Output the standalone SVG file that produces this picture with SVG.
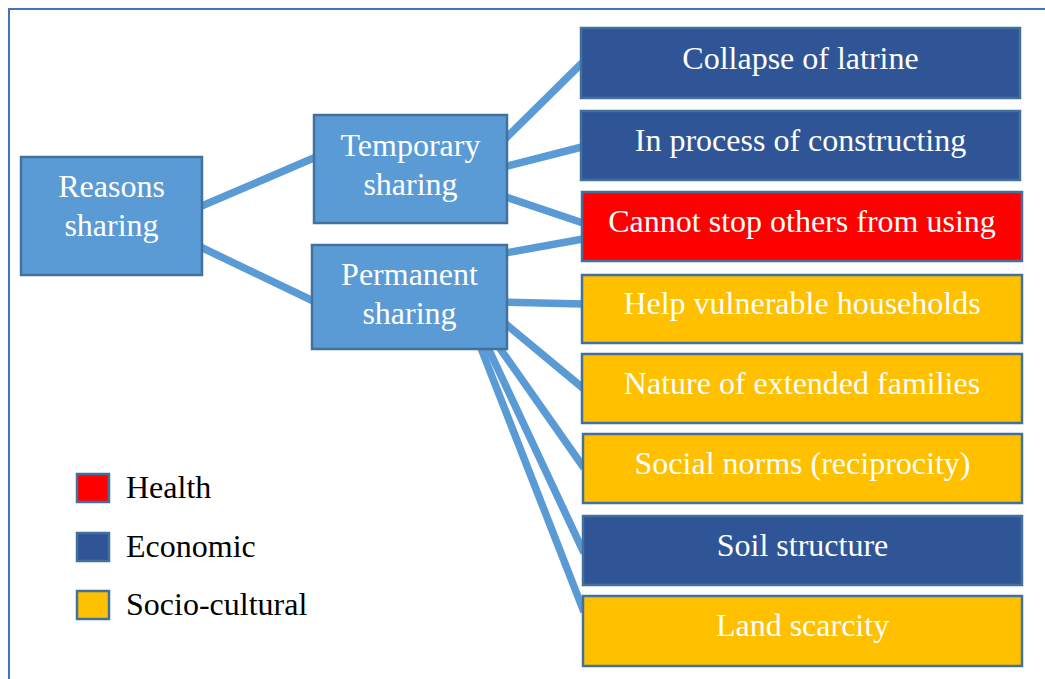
<svg xmlns="http://www.w3.org/2000/svg" width="1045" height="679" viewBox="0 0 1045 679">
  <style>
    .frame { fill: none; stroke: #4472C4; stroke-width: 2; }
    .link { stroke: #5B9BD5; stroke-width: 7.5; fill: none; stroke-linecap: butt; }
    .box { stroke: #41719C; stroke-width: 2.5; }
    .root { fill: #5B9BD5; }
    .eco { fill: #2F5597; }
    .health { fill: #FF0000; }
    .socio { fill: #FFC000; }
    .label { font-family: "Liberation Serif", "Times New Roman", serif; font-size: 32px; fill: #FFFFFF; text-anchor: middle; }
    .legend-text { font-family: "Liberation Serif", "Times New Roman", serif; font-size: 32px; fill: #000000; }
  </style>

  <rect width="1045" height="679" fill="#FFFFFF"/>
  <!-- outer frame (right and bottom edges run past the canvas) -->
  <rect class="frame" x="9" y="9" width="1060" height="700"/>

  <!-- connectors -->
  <g id="connectors">
    <line class="link" x1="190" y1="211" x2="330" y2="151"/>
    <line class="link" x1="190" y1="242" x2="330" y2="309"/>
    <line class="link" x1="500" y1="144" x2="582" y2="63"/>
    <line class="link" x1="500" y1="168" x2="582" y2="147"/>
    <line class="link" x1="500" y1="195" x2="583" y2="223"/>
    <line class="link" x1="500" y1="254" x2="583" y2="239"/>
    <line class="link" x1="500" y1="302" x2="583" y2="304"/>
    <line class="link" x1="495" y1="315" x2="584" y2="389"/>
    <line class="link" x1="480" y1="320" x2="584" y2="468"/>
    <line class="link" x1="475" y1="320" x2="584" y2="553"/>
    <line class="link" x1="470" y1="320" x2="584" y2="612"/>
  </g>

  <g id="node-reasons">
    <rect class="box root" x="21" y="157" width="181" height="118"/>
    <text class="label" x="111.5" y="197">Reasons</text>
    <text class="label" x="111.5" y="236">sharing</text>
  </g>
  <g id="node-temporary">
    <rect class="box root" x="314" y="115" width="193" height="108"/>
    <text class="label" x="410.5" y="156">Temporary</text>
    <text class="label" x="410.5" y="195">sharing</text>
  </g>
  <g id="node-permanent">
    <rect class="box root" x="312" y="245" width="195" height="104"/>
    <text class="label" x="409.5" y="285">Permanent</text>
    <text class="label" x="409.5" y="324">sharing</text>
  </g>

  <g id="node-collapse">
    <rect class="box eco" x="581" y="28" width="439" height="70"/>
    <text class="label" x="800.5" y="69">Collapse of latrine</text>
  </g>
  <g id="node-constructing">
    <rect class="box eco" x="581" y="111" width="439" height="69"/>
    <text class="label" x="800.5" y="151">In process of constructing</text>
  </g>
  <g id="node-cannot-stop">
    <rect class="box health" x="582" y="192" width="440" height="69"/>
    <text class="label" x="802" y="232">Cannot stop others from using</text>
  </g>
  <g id="node-vulnerable">
    <rect class="box socio" x="582" y="275" width="440" height="68"/>
    <text class="label" x="802" y="314">Help vulnerable households</text>
  </g>
  <g id="node-extended">
    <rect class="box socio" x="582" y="354" width="440" height="69"/>
    <text class="label" x="802" y="394">Nature of extended families</text>
  </g>
  <g id="node-norms">
    <rect class="box socio" x="583" y="434" width="439" height="69"/>
    <text class="label" x="802.5" y="474">Social norms (reciprocity)</text>
  </g>
  <g id="node-soil">
    <rect class="box eco" x="583" y="516" width="439" height="69"/>
    <text class="label" x="802.5" y="556">Soil structure</text>
  </g>
  <g id="node-land">
    <rect class="box socio" x="583" y="596" width="439" height="70"/>
    <text class="label" x="802.5" y="636">Land scarcity</text>
  </g>

  <g id="legend">
    <rect class="box health" x="77" y="474" width="32" height="28"/>
    <text class="legend-text" x="126" y="498">Health</text>
    <rect class="box eco" x="77" y="533" width="32" height="28"/>
    <text class="legend-text" x="126" y="557">Economic</text>
    <rect class="box socio" x="77" y="591" width="32" height="28"/>
    <text class="legend-text" x="126" y="615">Socio-cultural</text>
  </g>
</svg>
